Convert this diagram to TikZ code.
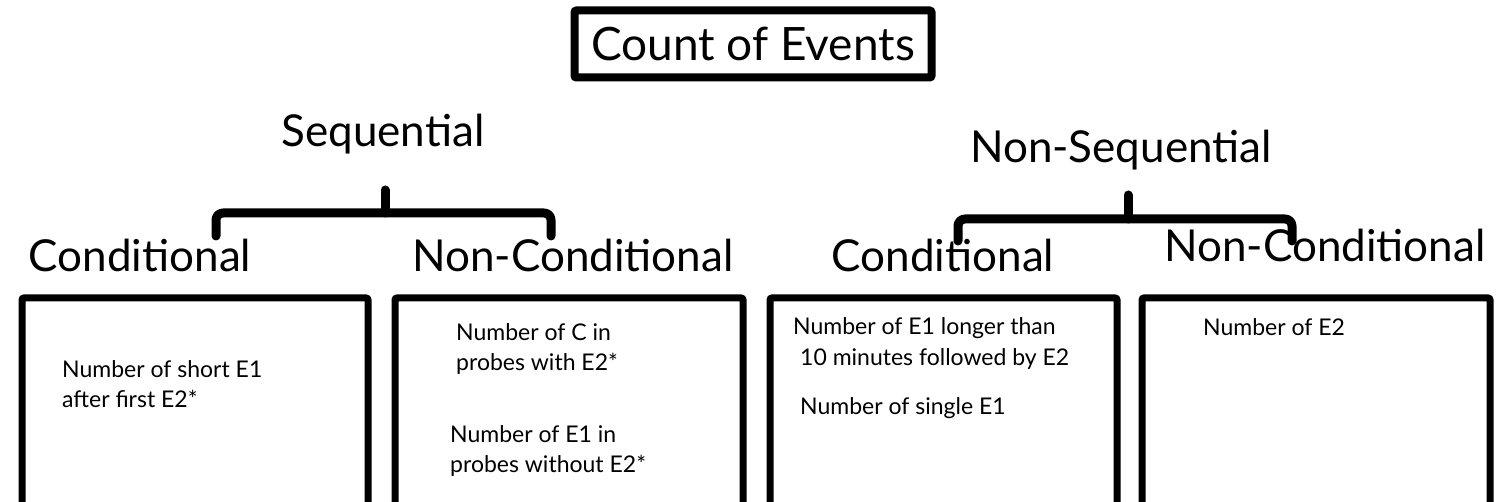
\documentclass[tikz,border=0pt]{standalone}
\usepackage{fontspec}
\setmainfont{Lato}
\begin{document}
\begin{tikzpicture}[x=1pt,y=-1pt,
  big/.style={inner sep=0pt,anchor=base,font=\fontsize{44}{50}\selectfont},
  small/.style={inner sep=0pt,anchor=base west,font=\fontsize{23}{30}\selectfont,align=left},
  cbox/.style={draw,line width=7pt,rounded corners=2pt,inner sep=0pt},
  brace/.style={line width=9pt,rounded corners=7pt,line cap=round,line join=round}]
\useasboundingbox (0,0) rectangle (1500,502);
% title
\node[draw,line width=8pt,rounded corners=2pt,minimum width=357pt,minimum height=67pt,inner sep=0pt,
  font=\fontsize{46}{52}\selectfont] (title) at (753,44) {Count of Events};
\node[big] (seq) at (383,147) {Sequential};
\node[big] (nseq) at (1121,163) {Non-Sequential};
% braces
\coordinate (b1l) at (216,236);
\coordinate (b1r) at (551,236);
\coordinate (b1t) at (385,190);
\draw[brace] (b1l) -- (216,213) -- (551,213) -- (b1r);
\draw[brace] (385,213) -- (b1t);
\coordinate (b2l) at (958,241);
\coordinate (b2r) at (1292,241);
\coordinate (b2t) at (1128,195);
\draw[brace] (b2l) -- (958,219) -- (1292,219) -- (b2r);
\draw[brace] (1128,219) -- (b2t);
% labels
\node[big] (c1) at (140,272) {Conditional};
\node[big] (n1) at (573,272) {Non-Conditional};
\node[big] (c2) at (943,272) {Conditional};
\node[big] (n2) at (1325,262) {Non-Conditional};
% boxes
\node[cbox,minimum width=346pt,minimum height=260pt,anchor=north west] (box1) at (18.5,294.5) {};
\node[cbox,minimum width=348pt,minimum height=260pt,anchor=north west] (box2) at (391.5,294.5) {};
\node[cbox,minimum width=347pt,minimum height=260pt,anchor=north west] (box3) at (766.5,294.5) {};
\node[cbox,minimum width=348pt,minimum height=260pt,anchor=north west] (box4) at (1138.5,294.5) {};
% texts
\node[small] (t1a) at (62,378) {Number of short E1};
\node[small] (t1b) at (62,408) {after first E2*};
\node[small] (t2a) at (456,341) {Number of C in};
\node[small] (t2b) at (456,371) {probes with E2*};
\node[small] (t2c) at (450,443) {Number of E1 in};
\node[small] (t2d) at (450,473) {probes without E2*};
\node[small] (t3a) at (793,335) {Number of E1 longer than};
\node[small] (t3b) at (800,366) {10 minutes followed by E2};
\node[small] (t3c) at (800,415) {Number of single E1};
\node[small] (t4a) at (1203,336) {Number of E2};
\end{tikzpicture}
\end{document}
